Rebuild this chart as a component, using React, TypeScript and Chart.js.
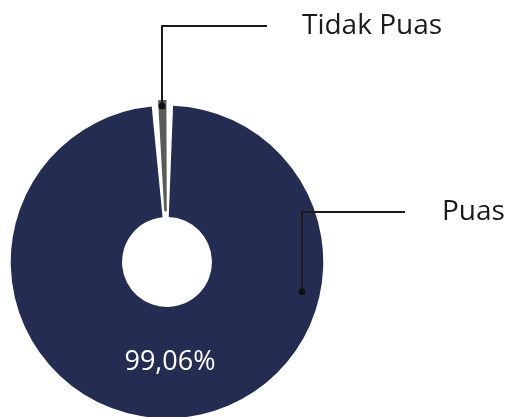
import React, { useEffect, useRef } from "react";
import { Chart, registerables } from "chart.js";

Chart.register(...registerables);

const categories = ["Puas", "Tidak Puas"];
const values = [99.06, 0.94];
const percentLabels = ["99,06%", ""];
const sliceColors = ["#242d51", "#5b5b5b"];

export default function App() {
  const ref = useRef<HTMLCanvasElement>(null);

  useEffect(() => {
    if (!ref.current) return;
    const FONT = '"Open Sans", sans-serif';
    const leaders = [
      { angle: 12.5 as number | null, r: 138, elbowY: 212, endX: 405, textX: 442 },
      { angle: null as number | null, r: 156, elbowY: 26, endX: 267, textX: 302 },
    ];
    const plugin = {
      id: "leaders",
      afterDatasetsDraw(chart: any) {
        const ctx = chart.ctx as CanvasRenderingContext2D;
        const arcs = chart.getDatasetMeta(0).data;
        ctx.save();
        arcs.forEach((arc: any, i: number) => {
          if (!percentLabels[i]) return;
          const p = arc.tooltipPosition(true);
          ctx.fillStyle = "#ffffff";
          ctx.font = `27px ${FONT}`;
          ctx.textAlign = "center";
          ctx.textBaseline = "middle";
          ctx.fillText(percentLabels[i], p.x, p.y);
        });
        arcs.forEach((arc: any, i: number) => {
          const L = leaders[i];
          const { x, y, startAngle, endAngle } = arc.getProps(
            ["x", "y", "startAngle", "endAngle"],
            true
          );
          const a = L.angle === null ? (startAngle + endAngle) / 2 : (L.angle * Math.PI) / 180;
          const px = Math.round(x + Math.cos(a) * L.r);
          const py = y + Math.sin(a) * L.r;
          ctx.strokeStyle = "#1a1a1a";
          ctx.lineWidth = 2;
          ctx.beginPath();
          ctx.moveTo(px, py);
          ctx.lineTo(px, L.elbowY);
          ctx.lineTo(L.endX, L.elbowY);
          ctx.stroke();
          ctx.beginPath();
          ctx.arc(px, py, 3.5, 0, Math.PI * 2);
          ctx.fillStyle = "#111111";
          ctx.fill();
          ctx.fillStyle = "#1a1a1a";
          ctx.textAlign = "left";
          ctx.textBaseline = "middle";
          ctx.font = `28px ${FONT}`;
          ctx.fillText(categories[i], L.textX, L.elbowY);
        });
        ctx.restore();
      },
    };

    const chart = new Chart(ref.current, {
      type: "doughnut",
      data: {
        labels: categories,
        datasets: [
          {
            data: values,
            backgroundColor: sliceColors,
            borderColor: "#ffffff",
            borderWidth: 0,
            spacing: 2.5,
            offset: [0, 12],
            hoverOffset: 0,
          },
        ],
      },
      options: {
        responsive: false,
        animation: false,
        radius: 155,
        cutout: "28.2%",
        layout: { padding: { left: 0, right: 173, top: 107, bottom: 0 } },
        plugins: {
          legend: { display: false },
          tooltip: { enabled: false },
          title: { display: false },
        },
        events: [],
      } as any,
      plugins: [plugin],
    });
    return () => chart.destroy();
  }, []);

  return (
    <div style={{ position: "fixed", left: 0, top: 0, width: 507, height: 417, background: "#fff" }}>
      <canvas ref={ref} width={507} height={417} style={{ width: 507, height: 417 }} />
    </div>
  );
}
